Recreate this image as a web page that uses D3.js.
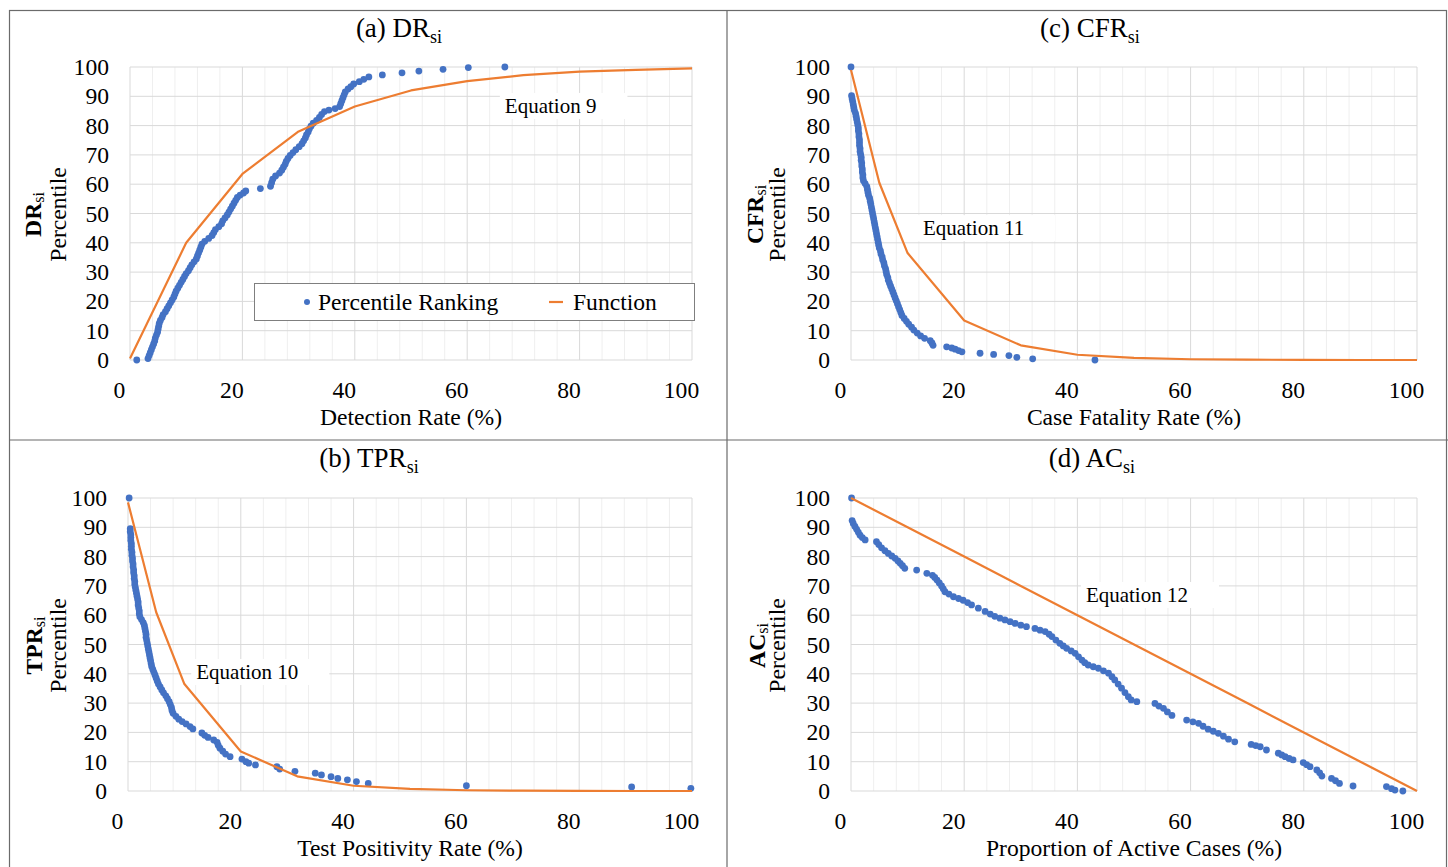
<!DOCTYPE html>
<html>
<head>
<meta charset="utf-8">
<script src="https://cdn.jsdelivr.net/npm/d3@7"></script>
<style>
body { margin: 0; background: #fff; }
svg text { font-family: "Liberation Serif", "Times New Roman", serif; fill: #000; }
</style>
</head>
<body>
<svg id="fig"></svg>
<script>
var width = 1448;
var height = 867;
var serif = '"Liberation Serif", "Times New Roman", serif';

// tick values
var xTicks = [0, 20, 40, 60, 80, 100];
var xMinor = [4, 8, 12, 16, 24, 28, 32, 36, 44, 48, 52, 56, 64, 68, 72, 76, 84, 88, 92, 96];
var yTicks = [0, 10, 20, 30, 40, 50, 60, 70, 80, 90, 100];

// (a) detection rate: percentile ranking [x, percentile]
var drPoints = [[1.2,0],[3.2,0.5],[3.4,1.5],[3.6,2.5],[3.8,3.5],[4.0,4.5],[4.2,5.5],[4.4,6.5],[4.5,7.5],[4.7,8.5],
  [4.9,9.5],[5.0,10.5],[5.1,11.5],[5.2,12.5],[5.4,13.5],[5.7,14.5],[5.9,15.5],[6.3,16.5],[6.6,17.5],[6.9,18.5],
  [7.2,19.5],[7.5,20.5],[7.8,21.5],[8.0,22.5],[8.2,23.5],[8.5,24.5],[8.8,25.5],[9.1,26.5],[9.4,27.5],[9.7,28.5],
  [10.0,29.5],[10.4,30.5],[10.7,31.5],[11.0,32.5],[11.4,33.5],[11.8,34.5],[12.0,35.5],[12.2,36.5],[12.4,37.5],[12.6,38.5],
  [12.8,39.5],[13.3,40.5],[14.0,41.5],[14.6,42.5],[14.9,43.5],[15.2,44.5],[15.8,45.5],[16.3,46.5],[16.5,47.5],[16.9,48.5],
  [17.3,49.5],[17.6,50.5],[17.9,51.5],[18.2,52.5],[18.5,53.5],[18.8,54.5],[19.1,55.5],[19.6,56.3],[20.2,57.0],[20.6,57.7],
  [23.2,58.5],[25.0,59.3],[25.2,60.5],[25.4,61.7],[25.9,62.8],[26.6,63.8],[27.0,64.8],[27.3,65.8],[27.6,66.8],[27.8,67.8],
  [28.1,68.8],[28.5,69.8],[29.0,70.8],[29.5,71.8],[30.1,72.8],[30.6,73.8],[30.9,74.8],[31.2,75.8],[31.4,76.8],[31.7,77.8],
  [31.9,78.8],[32.2,79.8],[32.6,80.8],[33.2,81.8],[33.7,82.8],[34.1,83.8],[34.6,84.8],[35.4,85.3],[36.5,85.8],[37.3,86.5],
  [37.5,87.5],[37.7,88.5],[37.9,89.5],[38.1,90.5],[38.3,91.5],[38.8,92.5],[39.3,93.3],[39.8,94.2],[40.8,95.0],[41.6,95.8],
  [42.5,96.6],[44.9,97.3],[48.4,98.0],[51.4,98.6],[55.7,99.2],[60.2,99.8],[66.7,100]];
var drFunc = [[0,0.5],[10,40],[20,63.5],[30,78],[40,86.5],[50,92],[60,95.2],[70,97.2],[80,98.4],[90,99],[100,99.5]];

// (b) test positivity rate
var tprPoints = [[0.2,100],[0.4,89.5],[0.4,88.5],[0.5,87.5],[0.5,86.5],[0.5,85.5],[0.6,84.5],[0.6,83.5],[0.6,82.5],[0.7,81.5],
  [0.7,80.5],[0.8,79.5],[0.8,78.5],[0.9,77.5],[0.9,76.5],[1.0,75.5],[1.0,74.5],[1.1,73.5],[1.1,72.5],[1.2,71.5],
  [1.2,70.5],[1.3,69.5],[1.4,68.5],[1.5,67.5],[1.6,66.5],[1.7,65.5],[1.8,64.5],[1.8,63.5],[1.9,62.5],[2.0,61.5],
  [2.0,60.5],[2.1,59.5],[2.4,58.5],[2.7,57.5],[2.9,56.5],[3.0,55.5],[3.1,54.5],[3.2,53.5],[3.2,52.5],[3.3,51.5],
  [3.4,50.5],[3.5,49.5],[3.6,48.5],[3.7,47.5],[3.8,46.5],[3.9,45.5],[4.0,44.5],[4.1,43.5],[4.2,42.5],[4.4,41.5],
  [4.6,40.5],[4.8,39.5],[5.0,38.5],[5.2,37.5],[5.4,36.5],[5.7,35.5],[6.0,34.5],[6.3,33.5],[6.7,32.5],[7.0,31.5],
  [7.3,30.5],[7.5,29.5],[7.7,28.5],[7.8,27.5],[8.0,26.5],[8.5,25.5],[9.0,24.5],[9.6,23.7],[10.3,22.9],[11.0,22.0],
  [11.5,21.2],[13.1,19.8],[13.6,19.0],[14.2,18.3],[15.2,17.4],[15.8,16.6],[16.0,15.6],[16.3,14.6],[16.8,13.6],[17.3,12.6],
  [18.1,11.7],[20.2,10.9],[20.9,10.0],[21.4,9.5],[22.6,8.9],[26.4,8.3],[26.9,7.5],[29.6,6.7],[33.2,6.1],[34.3,5.5],
  [36.0,4.9],[37.2,4.3],[38.9,3.8],[40.5,3.2],[42.6,2.6],[60.0,1.8],[89.3,1.4],[99.8,0.9]];
var tprFunc = [[0,98.5],[5,61],[10,36.5],[20,13.5],[30,5],[40,1.8],[50,0.7],[60,0.25],[70,0.1],[80,0.05],[90,0],[100,0]];

// (c) case fatality rate
var cfrPoints = [[0,100],[0.1,90.2],[0.2,89.2],[0.3,88.2],[0.4,87.2],[0.5,86.2],[0.6,85.2],[0.8,84.2],[0.9,83.2],[1.0,82.2],
  [1.1,81.2],[1.2,80.2],[1.3,79.2],[1.3,78.2],[1.4,77.2],[1.4,76.2],[1.5,75.2],[1.5,74.2],[1.5,73.2],[1.6,72.2],
  [1.6,71.2],[1.7,70.2],[1.8,69.2],[1.8,68.2],[1.9,67.2],[1.9,66.2],[2.0,65.2],[2.0,64.2],[2.1,63.2],[2.1,62.2],
  [2.2,61.2],[2.5,60.2],[2.8,59.2],[2.9,58.2],[3.0,57.2],[3.1,56.2],[3.3,55.2],[3.4,54.2],[3.5,53.2],[3.6,52.2],
  [3.7,51.2],[3.8,50.2],[3.9,49.2],[4.0,48.2],[4.1,47.2],[4.2,46.2],[4.3,45.2],[4.4,44.2],[4.5,43.2],[4.6,42.2],
  [4.7,41.2],[4.8,40.2],[4.9,39.2],[5.0,38.2],[5.2,37.2],[5.3,36.2],[5.5,35.2],[5.6,34.2],[5.8,33.2],[5.9,32.2],
  [6.1,31.2],[6.2,30.2],[6.3,29.2],[6.5,28.2],[6.6,27.2],[6.8,26.2],[7.0,25.2],[7.2,24.2],[7.4,23.2],[7.6,22.2],
  [7.8,21.2],[8.0,20.2],[8.2,19.2],[8.4,18.2],[8.6,17.2],[8.8,16.2],[9.0,15.2],[9.4,14.2],[9.8,13.2],[10.2,12.2],
  [10.7,11.2],[11.1,10.2],[11.7,9.2],[12.3,8.2],[13.0,7.4],[14.0,6.6],[14.3,5.8],[14.5,5.0],[16.9,4.5],[17.8,4.1],
  [18.4,3.7],[19.0,3.2],[19.6,2.8],[22.8,2.3],[25.2,1.9],[27.9,1.5],[29.3,0.9],[32.1,0.4],[43.1,0]];
var cfrFunc = [[0,99],[5,60.5],[10,36.5],[20,13.5],[30,5],[40,1.8],[50,0.7],[60,0.25],[70,0.1],[80,0.05],[90,0],[100,0]];

// (d) proportion of active cases
var acPoints = [[0.1,100],[0.2,92.3],[0.4,91.3],[0.7,90.3],[1.0,89.3],[1.3,88.3],[1.6,87.3],[2.0,86.5],[2.5,85.7],[4.5,85.1],
  [4.9,84.1],[5.4,83.0],[6.0,82.0],[6.6,81.1],[7.2,80.2],[7.8,79.4],[8.3,78.5],[8.7,77.7],[9.1,76.9],[9.5,76.0],
  [11.6,75.4],[13.4,74.3],[14.4,73.6],[14.8,72.9],[15.2,72.0],[15.6,71.0],[16.0,70.0],[16.3,69.0],[16.6,68.0],[17.3,67.2],
  [18.1,66.3],[19.0,65.7],[19.8,65.1],[20.6,64.3],[21.3,63.5],[22.5,62.4],[23.7,61.3],[24.6,60.4],[25.4,59.6],[26.3,59.0],
  [27.2,58.4],[28.1,57.8],[29.0,57.2],[30.0,56.6],[31.0,56.1],[32.5,55.5],[33.4,54.9],[34.3,54.4],[35.0,53.5],[35.5,52.7],
  [36.2,51.5],[36.9,50.4],[37.5,49.5],[38.1,48.7],[38.9,47.8],[39.6,47.0],[40.2,45.8],[40.8,44.7],[41.3,43.8],[41.9,43.0],
  [42.8,42.4],[43.7,41.9],[44.6,41.0],[45.5,40.2],[46.1,39.0],[46.6,37.9],[47.2,36.5],[47.8,35.1],[48.4,33.6],[49.0,32.2],
  [49.5,31.1],[50.5,30.5],[53.7,29.9],[54.4,29.0],[55.2,28.2],[55.9,27.0],[56.7,25.8],[59.3,24.2],[60.4,23.6],[61.4,23.1],
  [62.2,22.1],[63.1,21.1],[64.0,20.4],[64.9,19.7],[65.8,18.7],[66.7,17.7],[67.8,16.8],[70.7,15.9],[71.5,15.5],[72.3,15.1],
  [73.4,14.0],[75.5,12.9],[76.1,12.3],[76.7,11.7],[77.4,11.1],[78.1,10.6],[79.9,9.7],[80.5,9.0],[81.1,8.3],[82.3,7.2],
  [82.8,6.2],[83.2,5.1],[84.9,4.3],[85.6,3.5],[86.3,2.6],[88.7,1.7],[94.6,1.5],[95.5,0.8],[96.1,0.3],[97.5,0]];
var acFunc = [[0,100],[10,90],[20,80],[30,70],[40,60],[50,50],[60,40],[70,30],[80,20],[90,10],[100,0]];

var blue = '#4472C4';
var orange = '#ED7D31';
var fs = 23.6;

var panels = [
  {tag: '(a) ', sym: 'DR', points: drPoints, func: drFunc, xTitle: 'Detection Rate (%)',
   left: 130, right: 692, top: 67, bottom: 360, titleX: 399, titleY: 37, yt1: 33, yt2: 58,
   eq: 'Equation 9', eqAt: [66.7, 86.7], legend: true},
  {tag: '(c) ', sym: 'CFR', points: cfrPoints, func: cfrFunc, xTitle: 'Case Fatality Rate (%)',
   left: 851, right: 1417, top: 67, bottom: 360, titleX: 1090, titleY: 37, yt1: 755, yt2: 777,
   eq: 'Equation 11', eqAt: [12.7, 45]},
  {tag: '(b) ', sym: 'TPR', points: tprPoints, func: tprFunc, xTitle: 'Test Positivity Rate (%)',
   left: 128, right: 692, top: 498, bottom: 791, titleX: 369, titleY: 467, yt1: 34, yt2: 58,
   eq: 'Equation 10', eqAt: [12.1, 40.6]},
  {tag: '(d) ', sym: 'AC', points: acPoints, func: acFunc, xTitle: 'Proportion of Active Cases (%)',
   left: 851, right: 1417, top: 498, bottom: 791, titleX: 1092, titleY: 467, yt1: 757, yt2: 777,
   eq: 'Equation 12', eqAt: [41.5, 66.9]}
];

var svg = d3.select('#fig')
    .attr('width', width)
    .attr('height', height)
    .attr('font-family', serif);

svg.append('rect')
    .attr('width', width)
    .attr('height', height)
    .attr('fill', '#fff');

// frame and dividers
svg.append('rect')
    .attr('x', 9.5).attr('y', 10.5)
    .attr('width', 1437).attr('height', 870)
    .attr('fill', 'none')
    .attr('stroke', '#6b6b6b')
    .attr('stroke-width', 1.2);
svg.append('line')
    .attr('x1', 727).attr('x2', 727).attr('y1', 10).attr('y2', height)
    .attr('stroke', '#6b6b6b').attr('stroke-width', 1.2);
svg.append('line')
    .attr('x1', 9).attr('x2', width).attr('y1', 440).attr('y2', 440)
    .attr('stroke', '#6b6b6b').attr('stroke-width', 1.2);

function drawPanel(p) {
    var g = svg.append('g');
    var x = d3.scaleLinear().domain([0, 100]).range([p.left, p.right]);
    var y = d3.scaleLinear().domain([0, 100]).range([p.bottom, p.top]);

    // grid
    g.append('g').selectAll('line')
        .data(xMinor).join('line')
        .attr('x1', d => x(d)).attr('x2', d => x(d))
        .attr('y1', p.top).attr('y2', p.bottom)
        .attr('stroke', '#efefef').attr('stroke-width', 1);
    g.append('g').selectAll('line')
        .data(yTicks).join('line')
        .attr('x1', p.left).attr('x2', p.right)
        .attr('y1', d => y(d)).attr('y2', d => y(d))
        .attr('stroke', '#d9d9d9').attr('stroke-width', 1);
    g.append('g').selectAll('line')
        .data(xTicks).join('line')
        .attr('x1', d => x(d)).attr('x2', d => x(d))
        .attr('y1', p.top).attr('y2', p.bottom)
        .attr('stroke', '#d9d9d9').attr('stroke-width', 1);

    // tick labels (shifted a little left, as in the figure)
    var xa = g.append('g')
        .attr('transform', 'translate(-11,' + p.bottom + ')')
        .call(d3.axisBottom(x).tickValues(xTicks).tickSize(0).tickPadding(21));
    xa.select('.domain').remove();
    xa.attr('font-family', serif).attr('font-size', fs);

    var ya = g.append('g')
        .attr('transform', 'translate(' + p.left + ',0)')
        .call(d3.axisLeft(y).tickValues(yTicks).tickSize(0).tickPadding(21));
    ya.select('.domain').remove();
    ya.attr('font-family', serif).attr('font-size', fs);

    // equation label with white box
    var ex = x(p.eqAt[0]), ey = y(p.eqAt[1]);
    var eqText = g.append('text')
        .attr('x', ex).attr('y', ey)
        .attr('dominant-baseline', 'central')
        .attr('font-size', 21)
        .text(p.eq);
    var bb = eqText.node().getBBox();
    g.insert('rect', function() { return eqText.node(); })
        .attr('x', bb.x - 5).attr('y', ey - 13)
        .attr('width', bb.width + 36).attr('height', 26)
        .attr('fill', '#fff');

    // percentile ranking dots
    g.append('g').selectAll('circle')
        .data(p.points).join('circle')
        .attr('cx', d => x(d[0]))
        .attr('cy', d => y(d[1]))
        .attr('r', 3.4)
        .attr('fill', blue);

    // function line
    var line = d3.line().x(d => x(d[0])).y(d => y(d[1]));
    g.append('path')
        .datum(p.func)
        .attr('d', line)
        .attr('fill', 'none')
        .attr('stroke', orange)
        .attr('stroke-width', 2.2)
        .attr('stroke-linejoin', 'round');

    // title
    var t = g.append('text')
        .attr('x', p.titleX).attr('y', p.titleY)
        .attr('text-anchor', 'middle')
        .attr('font-size', 27);
    t.append('tspan').text(p.tag + p.sym);
    t.append('tspan').attr('font-size', 18).attr('dy', 6).text('si');

    // x title
    g.append('text')
        .attr('x', (p.left + p.right) / 2)
        .attr('y', p.bottom + 65)
        .attr('text-anchor', 'middle')
        .attr('font-size', fs)
        .text(p.xTitle);

    // y title, two lines
    var cy = (p.top + p.bottom) / 2 + 1;
    var yt = g.append('text')
        .attr('transform', 'translate(' + p.yt1 + ',' + cy + ') rotate(-90)')
        .attr('text-anchor', 'middle')
        .attr('dominant-baseline', 'central')
        .attr('font-size', fs)
        .attr('font-weight', 'bold');
    yt.append('tspan').text(p.sym);
    yt.append('tspan').attr('font-size', 16).attr('font-weight', 'normal').attr('dy', 5).text('si');
    g.append('text')
        .attr('transform', 'translate(' + p.yt2 + ',' + cy + ') rotate(-90)')
        .attr('text-anchor', 'middle')
        .attr('dominant-baseline', 'central')
        .attr('font-size', fs)
        .text('Percentile');

    if (p.legend) {
        var lg = g.append('g');
        lg.append('rect')
            .attr('x', 254.5).attr('y', 283.5)
            .attr('width', 440).attr('height', 37)
            .attr('fill', '#fff')
            .attr('stroke', '#7f7f7f');
        lg.append('circle')
            .attr('cx', 307).attr('cy', 302).attr('r', 3)
            .attr('fill', blue);
        lg.append('text')
            .attr('x', 318).attr('y', 302)
            .attr('dominant-baseline', 'central')
            .attr('font-size', fs)
            .text('Percentile Ranking');
        lg.append('line')
            .attr('x1', 549).attr('x2', 563).attr('y1', 302).attr('y2', 302)
            .attr('stroke', orange).attr('stroke-width', 2.2);
        lg.append('text')
            .attr('x', 573).attr('y', 302)
            .attr('dominant-baseline', 'central')
            .attr('font-size', fs)
            .text('Function');
    }
}

panels.forEach(drawPanel);
</script>
</body>
</html>
